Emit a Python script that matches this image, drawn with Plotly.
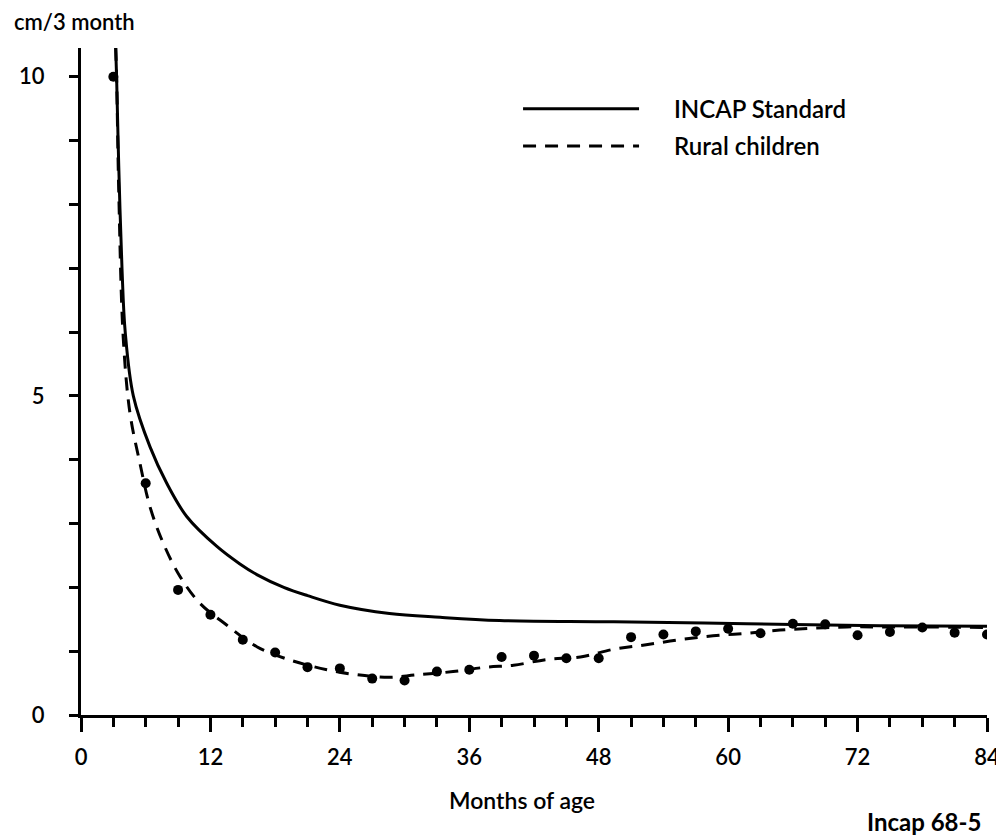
import plotly.graph_objects as go

# INCAP standard (solid curve)
std_month = [3.15, 3.3, 3.5, 3.8, 4.1, 4.85, 6.4, 7.95, 9.8, 12.6, 14.7, 16.3, 18.8,
             21.0, 24.0, 28.6, 33.3, 38.8, 49.4, 61.7, 74.1, 84.0]
std_value = [10.8, 10.0, 8.6, 7.0, 6.0, 5.0, 4.2, 3.63, 3.11, 2.64, 2.37, 2.2, 2.0,
             1.87, 1.72, 1.59, 1.53, 1.48, 1.46, 1.43, 1.40, 1.39]

# Rural children smoothed curve (dashed)
rur_month = [3.15, 3.3, 3.5, 3.92, 4.54, 5.47, 6.4, 7.63, 9.18, 11.03, 13.5, 16.3, 19.4,
             22.8, 25.6, 28.6, 31.1, 34.5, 37.6, 40.1, 43.2, 46.3, 49.4, 52.4, 55.5,
             58.6, 61.7, 64.8, 67.9, 71.0, 74.0, 78.0, 84.0]
rur_value = [10.8, 10.0, 8.2, 5.9, 4.73, 3.94, 3.26, 2.69, 2.17, 1.75, 1.41, 1.07, 0.86,
             0.71, 0.63, 0.59, 0.63, 0.68, 0.75, 0.78, 0.87, 0.91, 1.03, 1.10, 1.18,
             1.24, 1.28, 1.33, 1.36, 1.38, 1.38, 1.38, 1.37]

# Rural children observed points (every 3 months)
pt_month = [3, 6, 9, 12, 15, 18, 21, 24, 27, 30, 33, 36, 39, 42, 45, 48, 51, 54, 57,
            60, 63, 66, 69, 72, 75, 78, 81, 84]
pt_value = [10.0, 3.63, 1.96, 1.57, 1.18, 0.98, 0.75, 0.73, 0.57, 0.54, 0.68, 0.71,
            0.91, 0.93, 0.89, 0.89, 1.22, 1.26, 1.31, 1.35, 1.28, 1.43, 1.42, 1.25,
            1.30, 1.37, 1.29, 1.26]

x_ticks = [0, 12, 24, 36, 48, 60, 72, 84]
y_ticks = [0, 5, 10]

FONT = "Lato"
PAD = "\u00a0" * 5

fig = go.Figure()
fig.add_trace(go.Scatter(
    x=std_month, y=std_value, mode="lines", name=PAD + "INCAP Standard",
    line=dict(color="black", width=3, shape="spline", smoothing=1.0),
    legendgroup="a"))
fig.add_trace(go.Scatter(
    x=rur_month, y=rur_value, mode="lines", name=PAD + "Rural children",
    line=dict(color="black", width=3, dash="13px,9px", shape="spline", smoothing=1.0),
    legendgroup="b"))
fig.add_trace(go.Scatter(
    x=pt_month, y=pt_value, mode="markers", showlegend=False,
    marker=dict(color="black", size=10)))

# the page body has an 8px margin, so the figure is sized to fit the window
fig.update_layout(
    width=996, height=832,
    margin=dict(l=73, r=17, t=40, b=125),
    paper_bgcolor="white", plot_bgcolor="white",
    font=dict(family=FONT, color="black", size=20),
    showlegend=True,
    legend=dict(x=0.4824, y=0.942, xanchor="left", yanchor="top",
                itemwidth=116, tracegroupgap=3, traceorder="grouped",
                font=dict(family=FONT, size=24, weight=600),
                bgcolor="rgba(0,0,0,0)"),
    xaxis=dict(range=[0, 84], tickvals=x_ticks, ticktext=[str(v) for v in x_ticks],
               automargin=False,
               showgrid=False, zeroline=False, showline=True, linecolor="black",
               linewidth=3, ticks="outside", ticklen=14, tickwidth=3, tickcolor="black",
               ticklabelstandoff=7,
               tickfont=dict(family=FONT, size=22, weight=600),
               minor=dict(dtick=3, tick0=0, ticks="outside", ticklen=9, tickwidth=3,
                          tickcolor="black", showgrid=False)),
    yaxis=dict(range=[0, 10.45], tickvals=y_ticks, ticktext=[str(v) for v in y_ticks],
               automargin=False,
               showgrid=False, zeroline=False, showline=True, linecolor="black",
               linewidth=3, ticks="outside", ticklen=9, tickwidth=3, tickcolor="black",
               ticklabelstandoff=20,
               tickfont=dict(family=FONT, size=22, weight=600),
               minor=dict(dtick=1, tick0=0, ticks="outside", ticklen=9, tickwidth=3,
                          tickcolor="black", showgrid=False)),
)

fig.add_annotation(text="cm/3 month", xref="paper", yref="paper",
                   x=-0.0762, y=1.039, xanchor="left", yanchor="middle",
                   showarrow=False, font=dict(family=FONT, size=22, weight=600))
fig.add_annotation(text="Months of age", xref="paper", yref="paper",
                   x=0.4868, y=-0.1274, xanchor="center", yanchor="middle",
                   showarrow=False, font=dict(family=FONT, size=23, weight=600))
fig.add_annotation(text="Incap 68-5", xref="paper", yref="paper",
                   x=0.9956, y=-0.159, xanchor="right", yanchor="middle",
                   showarrow=False, font=dict(family=FONT, size=24, weight=700))

fig.write_html("out.html")
